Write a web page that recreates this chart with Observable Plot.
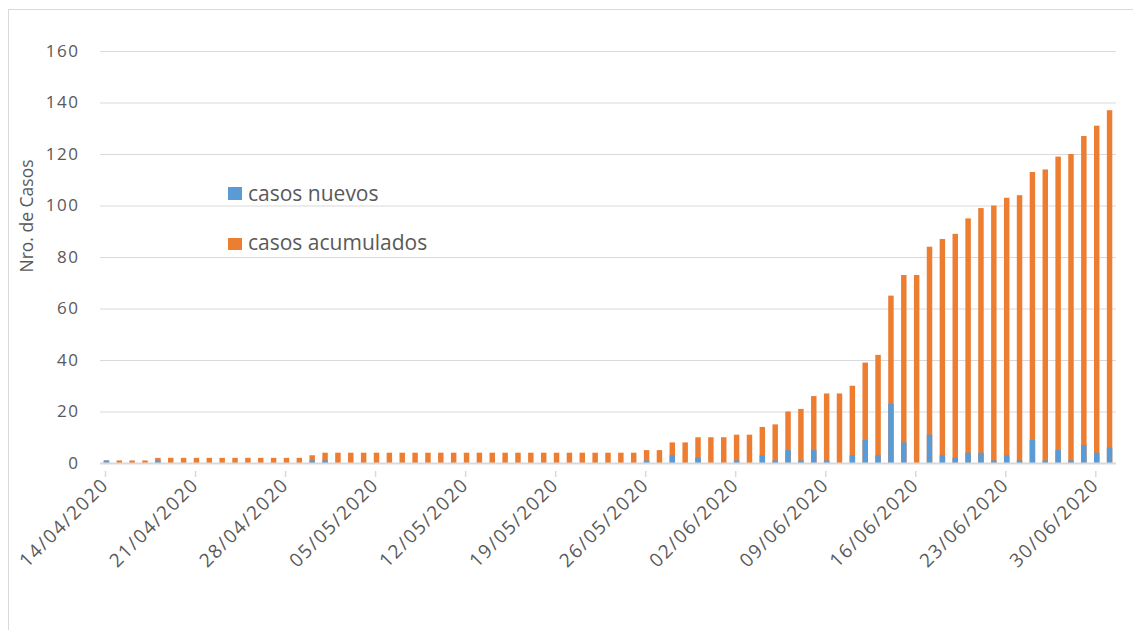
<!DOCTYPE html>
<html>
<head>
<meta charset="utf-8">
<script src="https://cdn.jsdelivr.net/npm/d3@7"></script>
<script src="https://cdn.jsdelivr.net/npm/@observablehq/plot@0.6"></script>
<style>
  html, body { margin: 0; padding: 0; background: #fff; overflow: hidden; }
  #wrap { position: relative; width: 1133px; height: 630px; font-family: "Open Sans", sans-serif; color: #595959; }
  #frame { position: absolute; left: 8px; top: 9px; width: 1200px; height: 700px; border: 1px solid #d9d9d9; box-sizing: border-box; }
  #chart { position: absolute; left: 0; top: 0; }
  .ylabel { position: absolute; left: 27px; top: 216px; transform: translate(-50%, -50%) rotate(-90deg); font-size: 17.5px; white-space: nowrap; line-height: 1; }
  .lg-sw { position: absolute; left: 228px; width: 13.5px; height: 12.5px; }
  .lg-tx { position: absolute; left: 248px; font-size: 21px; line-height: 1; white-space: nowrap; }
  #chart svg g[aria-label="y-axis tick label"] text { letter-spacing: 1.5px; }
  #chart svg g[aria-label="x-axis tick label"] text { letter-spacing: 1.6px; }
</style>
</head>
<body>
<div id="wrap">
  <div id="frame"></div>
  <div id="chart"></div>
  <div class="ylabel">Nro. de Casos</div>
  <div class="lg-sw" style="top:187px;background:#5b9bd5"></div>
  <div class="lg-tx" style="top:182.5px">casos nuevos</div>
  <div class="lg-sw" style="top:237.5px;background:#ed7d31"></div>
  <div class="lg-tx" style="top:231.5px">casos acumulados</div>
</div>
<script>
// Days (14/04/2020 .. 01/07/2020)
const dates = [
  "2020-04-14","2020-04-15","2020-04-16","2020-04-17","2020-04-18","2020-04-19","2020-04-20",
  "2020-04-21","2020-04-22","2020-04-23","2020-04-24","2020-04-25","2020-04-26","2020-04-27",
  "2020-04-28","2020-04-29","2020-04-30","2020-05-01","2020-05-02","2020-05-03","2020-05-04",
  "2020-05-05","2020-05-06","2020-05-07","2020-05-08","2020-05-09","2020-05-10","2020-05-11",
  "2020-05-12","2020-05-13","2020-05-14","2020-05-15","2020-05-16","2020-05-17","2020-05-18",
  "2020-05-19","2020-05-20","2020-05-21","2020-05-22","2020-05-23","2020-05-24","2020-05-25",
  "2020-05-26","2020-05-27","2020-05-28","2020-05-29","2020-05-30","2020-05-31","2020-06-01",
  "2020-06-02","2020-06-03","2020-06-04","2020-06-05","2020-06-06","2020-06-07","2020-06-08",
  "2020-06-09","2020-06-10","2020-06-11","2020-06-12","2020-06-13","2020-06-14","2020-06-15",
  "2020-06-16","2020-06-17","2020-06-18","2020-06-19","2020-06-20","2020-06-21","2020-06-22",
  "2020-06-23","2020-06-24","2020-06-25","2020-06-26","2020-06-27","2020-06-28","2020-06-29",
  "2020-06-30","2020-07-01"
];

// casos nuevos (blue)
const casosNuevos = [
  1,0,0,0,1,0,0, 0,0,0,0,0,0,0, 0,0,1,1,0,0,0, 0,0,0,0,0,0,0,
  0,0,0,0,0,0,0, 0,0,0,0,0,0,0, 1,0,3,0,2,0,0, 1,0,3,1,5,1,5,
  1,0,3,9,3,23,8, 0,11,3,2,4,4,1, 3,1,9,1,5,1,7, 4,6
];

// casos acumulados (orange)
const casosAcumulados = [
  1,1,1,1,2,2,2, 2,2,2,2,2,2,2, 2,2,3,4,4,4,4, 4,4,4,4,4,4,4,
  4,4,4,4,4,4,4, 4,4,4,4,4,4,4, 5,5,8,8,10,10,10, 11,11,14,15,20,21,26,
  27,27,30,39,42,65,73, 73,84,87,89,95,99,100, 103,104,113,114,119,120,127, 131,137
];

const tickLabels = ["14/04/2020","21/04/2020","28/04/2020","05/05/2020","12/05/2020","19/05/2020",
  "26/05/2020","02/06/2020","09/06/2020","16/06/2020","23/06/2020","30/06/2020"];

const yTicks = [0, 20, 40, 60, 80, 100, 120, 140, 160];

const parseLabel = d3.utcParse("%d/%m/%Y");
const tickDates = tickLabels.map(parseLabel);

const data = dates.map((d, i) => {
  const day = new Date(d + "T00:00:00Z");
  return { x1: day, x2: d3.utcDay.offset(day, 1), nuevos: casosNuevos[i], acumulados: casosAcumulados[i] };
});

const xStart = new Date(dates[0] + "T00:00:00Z");
const xEnd = d3.utcDay.offset(new Date(dates[dates.length - 1] + "T00:00:00Z"), 1);

const chart = Plot.plot({
  width: 1133,
  height: 630,
  marginLeft: 100,
  marginRight: 17,
  marginTop: 51,
  marginBottom: 167,
  style: { fontFamily: "Open Sans, sans-serif", fontSize: "17px", color: "#595959", background: "transparent" },
  x: { type: "utc", domain: [xStart, xEnd] },
  y: { domain: [0, 160] },
  marks: [
    Plot.gridY(yTicks, { stroke: "#d9d9d9", strokeOpacity: 1, strokeWidth: 1.2 }),
    Plot.axisY(yTicks, { tickSize: 0, tickPadding: 21, label: null, fill: "#595959", fontSize: 17 }),
    Plot.rectY(data, { x1: "x1", x2: "x2", y: "acumulados", fill: "#ed7d31", insetLeft: 3.7, insetRight: 3.7 }),
    Plot.rectY(data, { x1: "x1", x2: "x2", y: "nuevos", fill: "#5b9bd5", insetLeft: 3.7, insetRight: 3.7 }),
    Plot.ruleY([0], { stroke: "#d9d9d9", strokeWidth: 2 }),
    Plot.axisX(tickDates, {
      tickSize: 6, stroke: "#d9d9d9", strokeWidth: 1.5, strokeOpacity: 1,
      tickRotate: -45, tickPadding: 4, fill: "#595959", fontSize: 19, dx: 5, dy: 8,
      tickFormat: (d, i) => tickLabels[i], label: null
    })
  ]
});
document.getElementById("chart").appendChild(chart);
</script>
</body>
</html>
